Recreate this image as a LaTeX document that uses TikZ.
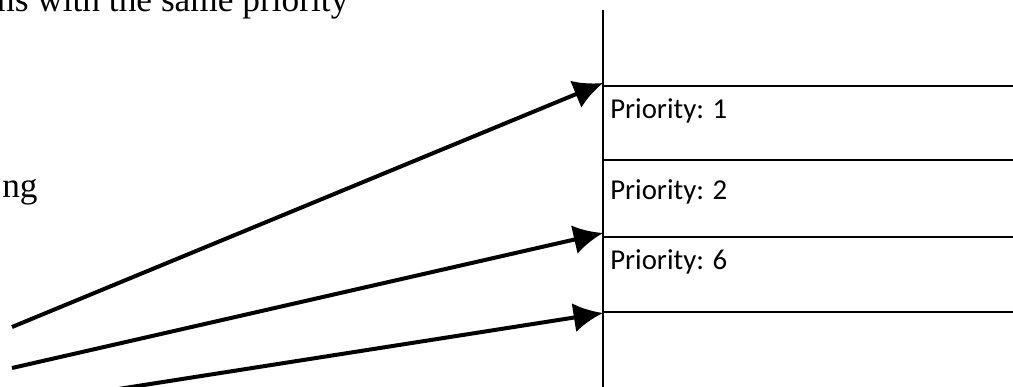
\documentclass[tikz,border=0pt]{standalone}
\usepackage{fontspec}
\setmainfont{Liberation Serif}
\newfontfamily\calfont{Carlito}
\usetikzlibrary{arrows.meta}
\tikzset{>={Latex[length=22pt,width=22pt]}}
\tikzset{prio/.style={anchor=base west, inner sep=0pt, font=\calfont\fontsize{21.6}{24}\selectfont},
  note/.style={anchor=base west, inner sep=0pt, font=\fontsize{26.5}{30}\selectfont},
  qline/.style={line width=1.8pt},
  push/.style={->, line width=3pt}}

\begin{document}
\begin{tikzpicture}[x=0.75pt, y=-0.75pt]
\clip (0,0) rectangle (1013,386);
% queue
\draw[qline] (603,10) -- (603,400);
\foreach \y in {86,160,237,312}
  \draw[qline] (603,\y) -- (1020,\y);
\node[prio] (p1) at (610,118) {Priority: 1};
\node[prio] (p2) at (610,199) {Priority: 2};
\node[prio] (p6) at (610,269) {Priority: 6};
% texts
\node[note] (same) at (-13,11) {ms with the same priority};
\node[note] (ng) at (2,197) {ng};
% arrows
\coordinate (a1) at (12,327);
\coordinate (b1) at (603,83);
\coordinate (a2) at (12,368);
\coordinate (b2) at (603,233);
\coordinate (a3) at (10,406);
\coordinate (b3) at (603,313);
\draw[push] (a1) -- (b1);
\draw[push] (a2) -- (b2);
\draw[push] (a3) -- (b3);
\end{tikzpicture}
\end{document}
